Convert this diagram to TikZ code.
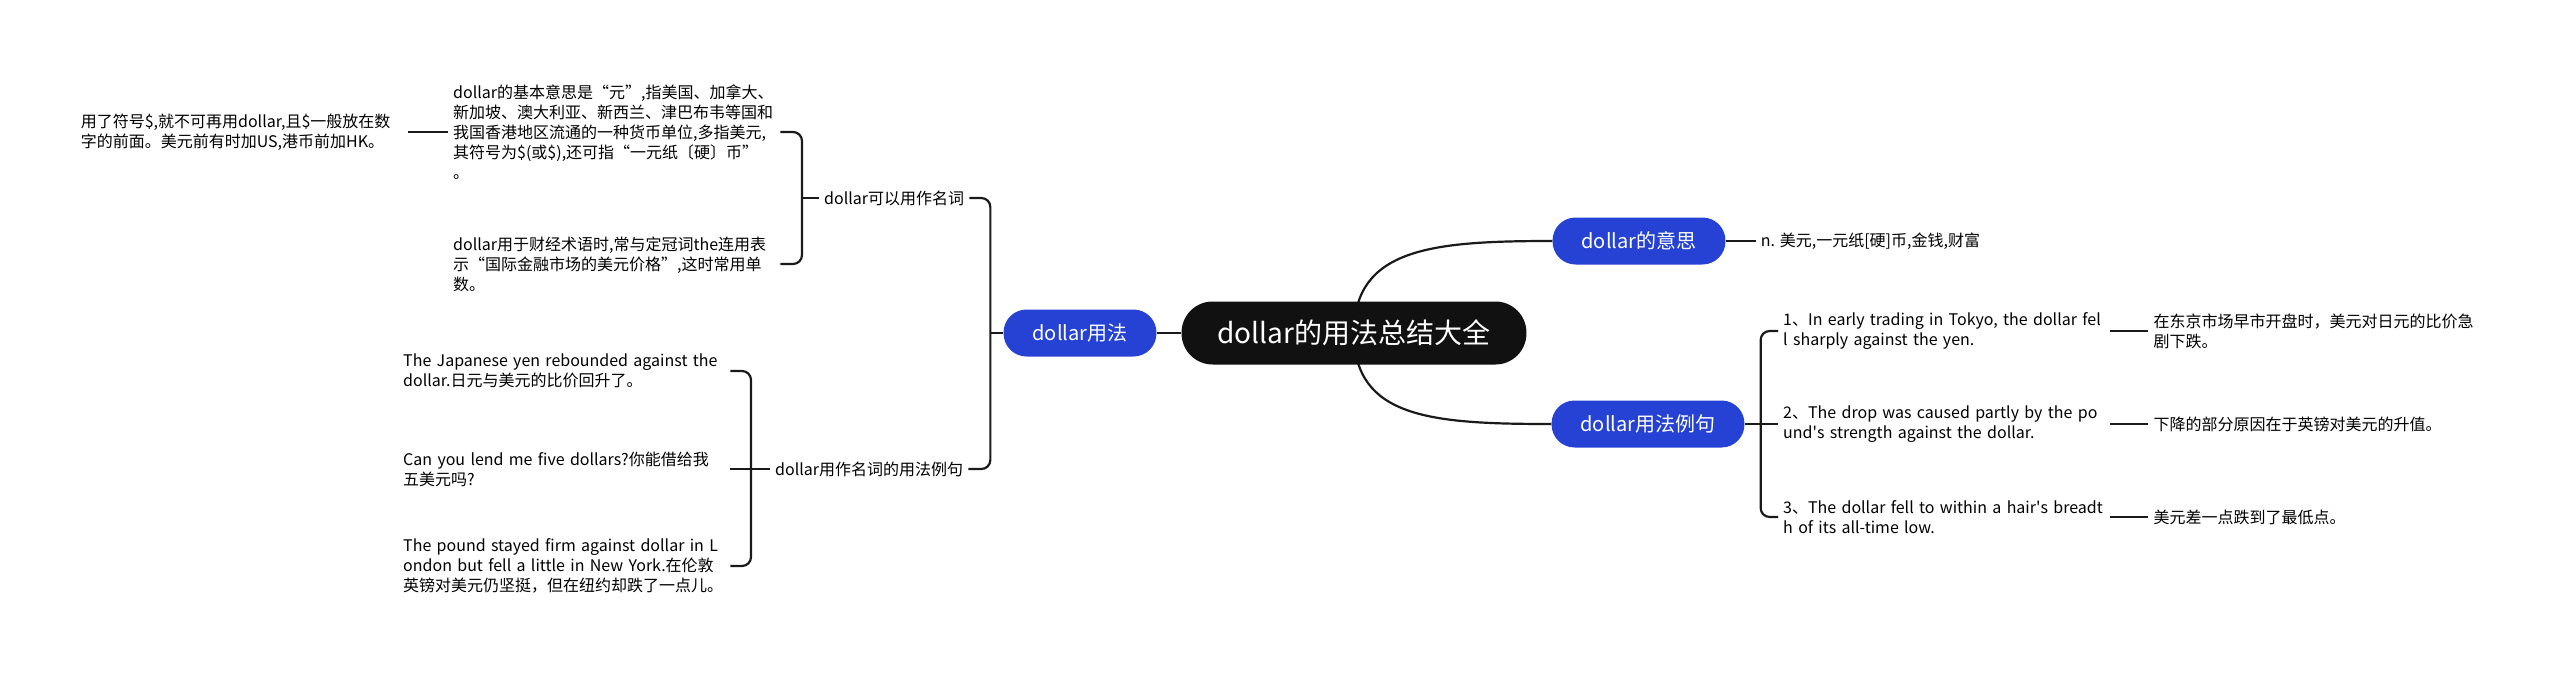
\documentclass[tikz,border=0pt]{standalone}
\usepackage{fontspec}
\setmainfont{Noto Sans CJK SC}
\usepackage{tikz}
\usetikzlibrary{positioning,backgrounds}
\definecolor{lan}{HTML}{2542D4}
\definecolor{mo}{HTML}{111111}
\definecolor{xian}{HTML}{1A1A1A}

\begin{document}
\begin{tikzpicture}[x=1pt,y=-1pt,
  zhu/.style={fill=mo,text=white,rounded corners=31pt,minimum height=63pt,inner xsep=36pt,font=\fontsize{28}{34}\selectfont},
  ti/.style={fill=lan,text=white,rounded corners=23pt,minimum height=47pt,inner xsep=29pt,font=\fontsize{20}{24}\selectfont},
  ye/.style={align=left,inner xsep=5pt,inner ysep=2pt,font=\fontsize{16}{20}\selectfont},
  duan/.style={ye,text width=322pt},
  lian/.style={draw=xian,line width=2.2pt},
  kuo/.style={lian,rounded corners=9pt}]
\useasboundingbox (0,0) rectangle (2560,677);

\node[zhu] (zong) at (1354,333) {dollar的用法总结大全};
\node[ti] (yongfa) at (1080,333) {dollar用法};
\node[ti] (yisi) at (1639,241) {dollar的意思};
\node[ti] (liju) at (1648,424) {dollar用法例句};

% left: dollar用法
\node[ye,anchor=west] (mingci) at (819,198) {dollar可以用作名词};
\node[ye,anchor=west] (zuoju) at (770,469) {dollar用作名词的用法例句};
\node[duan,anchor=west] (jiben) at (448,132) {dollar的基本意思是“元”,指美国、加拿大、\\新加坡、澳大利亚、新西兰、津巴布韦等国和\\我国香港地区流通的一种货币单位,多指美元,\\其符号为\$(或\$),还可指“一元纸〔硬〕币”\\。};
\node[duan,anchor=west] (caijing) at (448,264) {dollar用于财经术语时,常与定冠词the连用表\\示“国际金融市场的美元价格”,这时常用单\\数。};
\node[duan,left=40pt of jiben] (fuhao) {用了符号\$,就不可再用dollar,且\$一般放在数\\字的前面。美元前有时加US,港币前加HK。};
\node[duan,anchor=west] (riyuan) at (398,371) {The Japanese yen rebounded against the\\dollar.日元与美元的比价回升了。};
\node[duan,anchor=west] (jiegei) at (398,469) {Can you lend me five dollars?你能借给我\\五美元吗?};
\node[duan,anchor=west] (yingbang) at (398,566) {The pound stayed firm against dollar in L\\ondon but fell a little in New York.在伦敦\\英镑对美元仍坚挺，但在纽约却跌了一点儿。};

% right: 意思 and 例句
\node[ye,right=30pt of yisi] (ciyi) {n. 美元,一元纸[硬]币,金钱,财富};
\node[duan,anchor=west] (li1) at (1778,331) {1、In early trading in Tokyo, the dollar fel\\l sharply against the yen.};
\node[duan,anchor=west] (li2) at (1778,424) {2、The drop was caused partly by the po\\und\textquotesingle s strength against the dollar.};
\node[duan,anchor=west] (li3) at (1778,517) {3、The dollar fell to within a hair\textquotesingle s breadt\\h of its all-time low.};
\node[ye,right=38pt of li1] (yi1) {在东京市场早市开盘时，美元对日元的比价急\\剧下跌。};
\node[ye,right=38pt of li2] (yi2) {下降的部分原因在于英镑对美元的升值。};
\node[ye,right=38pt of li3] (yi3) {美元差一点跌到了最低点。};

\begin{pgfonlayer}{background}
\fill[white] (0,0) rectangle (2560,677);
\draw[lian] (zong.west) -- (yongfa.east);
\draw[lian] (zong.center) .. controls +(0,-85) and +(-120,0) .. (yisi.west);
\draw[lian] (zong.center) .. controls +(0,85) and +(-120,0) .. (liju.west);
\draw[lian] (yongfa.west) -- ++(-13,0) coordinate (j1);
\draw[kuo] (j1) |- (mingci.east); \draw[kuo] (j1) |- (zuoju.east);
\draw[lian] (mingci.west) -- ++(-17,0) coordinate (j2);
\draw[kuo] (j2) |- (jiben.east); \draw[kuo] (j2) |- (caijing.east);
\draw[lian] (jiben.west) -- (fuhao.east);
\draw[lian] (zuoju.west) -- ++(-19,0) coordinate (j3);
\draw[kuo] (j3) |- (riyuan.east); \draw[kuo] (j3) |- (yingbang.east); \draw[lian] (j3) -- (jiegei.east);
\draw[lian] (yisi.east) -- (ciyi.west);
\draw[lian] (liju.east) -- ++(16,0) coordinate (j4);
\draw[kuo] (j4) |- (li1.west); \draw[kuo] (j4) |- (li3.west); \draw[lian] (j4) -- (li2.west);
\draw[lian] (li1.east) -- (yi1.west);
\draw[lian] (li2.east) -- (yi2.west);
\draw[lian] (li3.east) -- (yi3.west);
\end{pgfonlayer}
\end{tikzpicture}
\end{document}
